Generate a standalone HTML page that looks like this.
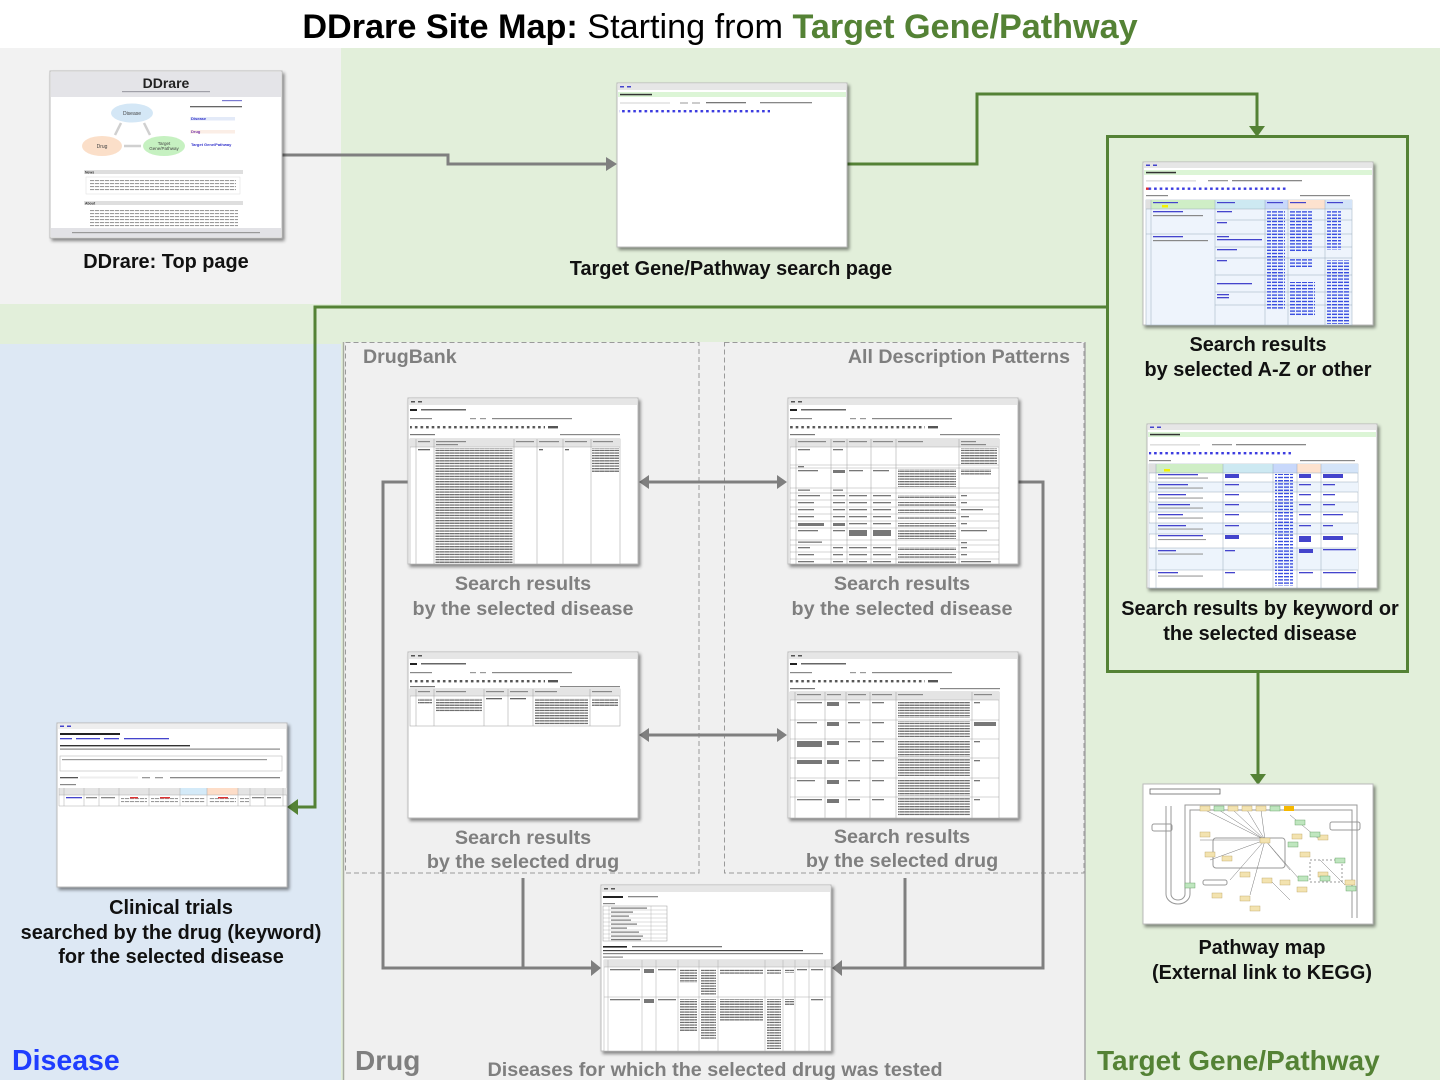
<!DOCTYPE html>
<html><head><meta charset="utf-8">
<style>
html,body{margin:0;padding:0;background:#fff;}
svg{display:block;}
text{font-family:"Liberation Sans",Arial,Helvetica,sans-serif;}
</style></head><body>
<svg width="1440" height="1080" viewBox="0 0 1440 1080" xmlns="http://www.w3.org/2000/svg">
<defs>
<filter id="sh" x="-5%" y="-5%" width="115%" height="115%"><feDropShadow dx="2" dy="2.5" stdDeviation="1.5" flood-color="#000" flood-opacity="0.45"/></filter>
<pattern id="tg" width="5" height="3" patternUnits="userSpaceOnUse"><rect width="4.2" height="1.1" fill="#9a9a9a"/></pattern>
<pattern id="td" width="5" height="2.6" patternUnits="userSpaceOnUse"><rect width="4.8" height="1.3" fill="#707070"/></pattern>
<pattern id="tb" width="6" height="3.2" patternUnits="userSpaceOnUse"><rect width="5" height="1.4" fill="#3a4fe0"/></pattern>
<pattern id="abc" width="5.6" height="10" patternUnits="userSpaceOnUse"><rect x="0.5" width="2.6" height="10" fill="#3a3ae0"/></pattern>
<pattern id="abk" width="5.6" height="10" patternUnits="userSpaceOnUse"><rect x="0.5" width="2.6" height="10" fill="#555"/></pattern>
</defs>

<!-- backgrounds -->
<rect x="0" y="0" width="1440" height="48" fill="#fff"/>
<rect x="0" y="48" width="1440" height="1032" fill="#e2efda"/>
<rect x="0" y="48" width="341" height="256" fill="#f2f2f2"/>
<rect x="0" y="344" width="341" height="736" fill="#dde8f4"/>
<rect x="343" y="342" width="742" height="738" fill="#f0f0f0"/>
<line x1="343.5" y1="342" x2="343.5" y2="1080" stroke="#a8aca0" stroke-width="1.5"/>
<line x1="1085" y1="342" x2="1085" y2="1080" stroke="#a8a8a8" stroke-width="1.5"/>
<rect x="345.5" y="342.5" width="353.5" height="530.5" fill="none" stroke="#9a9a9a" stroke-width="1" stroke-dasharray="5,3"/>
<rect x="724.5" y="342.5" width="359.5" height="530.5" fill="none" stroke="#9a9a9a" stroke-width="1" stroke-dasharray="5,3"/>

<!-- title -->
<text x="720" y="38" font-size="34.2" text-anchor="middle" fill="#000"><tspan font-weight="bold">DDrare Site Map:</tspan> Starting from <tspan font-weight="bold" fill="#548235">Target Gene/Pathway</tspan></text>

<!-- ========== connectors ========== -->
<g fill="none" stroke="#7f7f7f" stroke-width="3">
<path d="M282,155 H448 V164 H607"/>
<line x1="648" y1="482" x2="778" y2="482"/>
<line x1="648" y1="735" x2="778" y2="735"/>
<path d="M408,482 H383 V968 H592"/>
<path d="M523,878 V968"/>
<path d="M1018,482 H1043 V968 H841"/>
<path d="M905,878 V968"/>
</g>
<g fill="#7f7f7f">
<polygon points="606,157 617,164 606,171"/>
<polygon points="649,475 639,482 649,489"/>
<polygon points="777,475 787,482 777,489"/>
<polygon points="649,728 639,735 649,742"/>
<polygon points="777,728 787,735 777,742"/>
<polygon points="591,960 601,968 591,976"/>
<polygon points="842,960 832,968 842,976"/>
</g>
<g fill="none" stroke="#548235" stroke-width="3">
<path d="M847,164 H977 V94 H1257 V127"/>
<rect x="1107.5" y="136.5" width="300" height="535"/>
<path d="M1107,307 H315 V807 H297"/>
<path d="M1258,672 V775"/>
</g>
<g fill="#548235">
<polygon points="1249,126 1265,126 1257,137"/>
<polygon points="298,799 287,807 298,815"/>
<polygon points="1250,774 1266,774 1258,785"/>
</g>

<!-- ========== T1 top page ========== -->
<rect x="50" y="71" width="232" height="167" fill="#fff" stroke="#bbb" filter="url(#sh)"/>
<rect x="51" y="72" width="230" height="25" fill="#e4e4e8"/>
<text x="166" y="88" font-size="14" font-weight="bold" text-anchor="middle" fill="#222">DDrare</text>
<rect x="122" y="91" width="88" height="1.2" fill="#a0a0a8"/>
<rect x="222" y="100" width="20" height="1.2" fill="#7a7ad0"/>
<g stroke="#d0d0d0" stroke-width="2.5"><line x1="115" y1="135" x2="121" y2="123"/><line x1="150" y1="135" x2="144" y2="123"/><line x1="124" y1="146" x2="141" y2="146"/></g>
<ellipse cx="132" cy="113" rx="21" ry="9.5" fill="#d4e7f6"/>
<text x="132" y="115" font-size="5" text-anchor="middle" fill="#444">Disease</text>
<ellipse cx="102" cy="146" rx="20" ry="10" fill="#fbdfc9"/>
<text x="102" y="148" font-size="5" text-anchor="middle" fill="#444">Drug</text>
<ellipse cx="164" cy="146" rx="21" ry="10" fill="#c6f1c1"/>
<text x="164" y="145" font-size="4.5" text-anchor="middle" fill="#444">Target</text>
<text x="164" y="150" font-size="4.5" text-anchor="middle" fill="#444">Gene/Pathway</text>
<rect x="190" y="106" width="52" height="1.3" fill="#666"/>
<rect x="190" y="117" width="45" height="3.5" fill="#e3eaf8"/><text x="191" y="120" font-size="4" fill="#3333cc" font-weight="bold">Disease</text>
<rect x="190" y="130" width="45" height="3.5" fill="#fbeee6"/><text x="191" y="133" font-size="4" fill="#7733aa" font-weight="bold">Drug</text>
<text x="191" y="146" font-size="4" fill="#3333cc" font-weight="bold">Target Gene/Pathway</text>
<rect x="84" y="170" width="159" height="4" fill="#dedede"/>
<text x="85" y="173.5" font-size="3.5" font-weight="bold" fill="#333">News</text>
<rect x="86" y="177" width="154" height="17" fill="#fff" stroke="#ddd" stroke-width="0.5"/>
<rect x="90" y="180" width="146" height="11" fill="url(#tg)"/>
<rect x="84" y="201" width="159" height="4" fill="#dedede"/>
<text x="85" y="204.5" font-size="3.5" font-weight="bold" fill="#333">About</text>
<rect x="90" y="209" width="148" height="18" fill="url(#tg)"/>
<rect x="51" y="228" width="230" height="9" fill="#e2e2e6"/>
<rect x="72" y="232" width="188" height="1.2" fill="#999"/>

<!-- ========== T2 search page ========== -->
<rect x="617" y="83" width="230" height="164" fill="#fff" stroke="#bbb" filter="url(#sh)"/>
<rect x="618" y="84" width="228" height="6" fill="#e6e6e6"/>
<rect x="620" y="86" width="4" height="1.5" fill="#44c"/><rect x="627" y="86" width="4" height="1.5" fill="#44c"/>
<rect x="618" y="92" width="228" height="5" fill="#dcf5d6"/>
<rect x="620" y="93.8" width="32" height="1.5" fill="#333"/>
<rect x="620" y="102" width="50" height="2" fill="#e8e8e8"/>
<rect x="680" y="102" width="8" height="2" fill="#ccc"/><rect x="692" y="102" width="8" height="2" fill="#ccc"/>
<rect x="706" y="102" width="40" height="1.3" fill="#777"/><rect x="760" y="102" width="52" height="1.3" fill="#888"/>
<rect x="619" y="110" width="151" height="2.4" fill="url(#abc)"/>

<!-- ========== T3 A-Z results ========== -->
<rect x="1143" y="162" width="230" height="163" fill="#fff" stroke="#bbb" filter="url(#sh)"/>
<rect x="1144" y="163" width="228" height="5" fill="#e6e6e6"/>
<rect x="1146" y="164.5" width="4" height="1.5" fill="#44c"/><rect x="1153" y="164.5" width="4" height="1.5" fill="#44c"/>
<rect x="1144" y="170" width="228" height="5" fill="#dcf5d6"/>
<rect x="1146" y="171.8" width="30" height="1.5" fill="#333"/>
<rect x="1146" y="180" width="50" height="1.6" fill="#e0e0e0"/>
<rect x="1208" y="180" width="20" height="1.3" fill="#999"/><rect x="1232" y="180" width="70" height="1.3" fill="#888"/>
<rect x="1146" y="187.5" width="140" height="2.4" fill="url(#abc)"/>
<rect x="1146" y="187.5" width="2.6" height="2.4" fill="#e03030"/>
<rect x="1146" y="195" width="22" height="1.2" fill="#888"/><rect x="1300" y="195" width="50" height="1.2" fill="#888"/>
<rect x="1146" y="200" width="206" height="125" fill="#eef4fc" stroke="#9ab" stroke-width="0.5"/>
<rect x="1146" y="200" width="5" height="9" fill="#e0e0e0"/>
<rect x="1151" y="200" width="64" height="9" fill="#cfeec6"/>
<rect x="1215" y="200" width="50" height="9" fill="#cde9f2"/>
<rect x="1265" y="200" width="23" height="9" fill="#c8d8fb"/>
<rect x="1288" y="200" width="37" height="9" fill="#fde2cf"/>
<rect x="1325" y="200" width="27" height="9" fill="#d4e4f8"/>
<rect x="1162" y="205" width="6" height="2.5" fill="#f4f000"/>
<rect x="1153" y="202" width="25" height="1.2" fill="#44c"/><rect x="1217" y="202" width="18" height="1.2" fill="#44c"/><rect x="1267" y="202" width="16" height="1.2" fill="#44c"/><rect x="1290" y="202" width="16" height="1.2" fill="#44c"/><rect x="1327" y="202" width="16" height="1.2" fill="#44c"/>
<g stroke="#9ab" stroke-width="0.5">
<line x1="1151" y1="200" x2="1151" y2="325"/><line x1="1215" y1="200" x2="1215" y2="325"/><line x1="1265" y1="200" x2="1265" y2="325"/><line x1="1288" y1="200" x2="1288" y2="325"/><line x1="1325" y1="200" x2="1325" y2="325"/>
<line x1="1146" y1="209" x2="1352" y2="209"/><line x1="1146" y1="234" x2="1352" y2="234"/>
<line x1="1215" y1="220" x2="1352" y2="220"/><line x1="1215" y1="247" x2="1352" y2="247"/><line x1="1215" y1="258" x2="1352" y2="258"/><line x1="1215" y1="275" x2="1352" y2="275"/><line x1="1215" y1="292" x2="1352" y2="292"/><line x1="1215" y1="305" x2="1352" y2="305"/>
</g>
<rect x="1153" y="211" width="30" height="1.3" fill="#44c"/><rect x="1153" y="215" width="50" height="1.2" fill="#888"/>
<rect x="1153" y="236" width="30" height="1.3" fill="#44c"/><rect x="1153" y="240" width="55" height="1.2" fill="#888"/>
<rect x="1217" y="211" width="15" height="1.3" fill="#44c"/><rect x="1217" y="222" width="10" height="1.3" fill="#44c"/>
<rect x="1217" y="236" width="12" height="1.3" fill="#44c"/><rect x="1217" y="239" width="45" height="1.3" fill="#44c"/>
<rect x="1217" y="249" width="20" height="1.3" fill="#44c"/><rect x="1217" y="260" width="10" height="1.3" fill="#44c"/>
<rect x="1217" y="283" width="35" height="1.3" fill="#44c"/><rect x="1217" y="294" width="12" height="1.3" fill="#44c"/><rect x="1217" y="297" width="12" height="1.3" fill="#44c"/>
<rect x="1267" y="210" width="18" height="100" fill="url(#tb)"/>
<rect x="1290" y="210" width="22" height="42" fill="url(#tb)"/>
<rect x="1290" y="259" width="22" height="8" fill="url(#tb)"/>
<rect x="1290" y="282" width="25" height="34" fill="url(#tb)"/>
<rect x="1327" y="210" width="14" height="40" fill="url(#tb)"/>
<rect x="1327" y="260" width="23" height="64" fill="url(#tb)"/>

<!-- ========== T4 keyword results ========== -->
<rect x="1147" y="424" width="230" height="164" fill="#fff" stroke="#bbb" filter="url(#sh)"/>
<rect x="1148" y="425" width="228" height="5" fill="#e6e6e6"/>
<rect x="1150" y="426.5" width="4" height="1.5" fill="#44c"/><rect x="1157" y="426.5" width="4" height="1.5" fill="#44c"/>
<rect x="1148" y="432" width="228" height="5" fill="#dcf5d6"/>
<rect x="1150" y="433.8" width="30" height="1.5" fill="#333"/>
<rect x="1150" y="444" width="50" height="1.6" fill="#e0e0e0"/>
<rect x="1212" y="444" width="20" height="1.3" fill="#999"/><rect x="1236" y="444" width="70" height="1.3" fill="#888"/>
<rect x="1149" y="452" width="142" height="2.4" fill="url(#abc)"/>
<rect x="1149" y="460" width="22" height="1.2" fill="#888"/><rect x="1300" y="460" width="55" height="1.2" fill="#888"/>
<rect x="1149" y="464" width="209" height="124" fill="#fff" stroke="#9ab" stroke-width="0.5"/>
<rect x="1149" y="464" width="7" height="9" fill="#e0e0e0"/>
<rect x="1156" y="464" width="67" height="9" fill="#cfeec6"/>
<rect x="1223" y="464" width="50" height="9" fill="#cde9f2"/>
<rect x="1273" y="464" width="24" height="9" fill="#c8d8fb"/>
<rect x="1297" y="464" width="24" height="9" fill="#fde2cf"/>
<rect x="1321" y="464" width="37" height="9" fill="#d4e4f8"/>
<rect x="1164" y="469" width="6" height="2.5" fill="#f4f000"/>
<g fill="#edf4fc">
<rect x="1149" y="482" width="209" height="10"/><rect x="1149" y="502" width="209" height="10"/><rect x="1149" y="523" width="209" height="11"/><rect x="1149" y="548" width="209" height="22"/>
</g>
<g stroke="#9ab" stroke-width="0.5">
<line x1="1156" y1="464" x2="1156" y2="588"/><line x1="1223" y1="464" x2="1223" y2="588"/><line x1="1273" y1="464" x2="1273" y2="588"/><line x1="1297" y1="464" x2="1297" y2="588"/><line x1="1321" y1="464" x2="1321" y2="588"/>
<line x1="1149" y1="473" x2="1358" y2="473"/><line x1="1149" y1="482" x2="1358" y2="482"/><line x1="1149" y1="492" x2="1358" y2="492"/><line x1="1149" y1="502" x2="1358" y2="502"/><line x1="1149" y1="512" x2="1358" y2="512"/><line x1="1149" y1="523" x2="1358" y2="523"/><line x1="1149" y1="534" x2="1358" y2="534"/><line x1="1149" y1="548" x2="1358" y2="548"/><line x1="1149" y1="570" x2="1358" y2="570"/>
</g>
<g fill="#44c">
<rect x="1158" y="474" width="40" height="1.3"/><rect x="1158" y="484" width="30" height="1.3"/><rect x="1158" y="494" width="28" height="1.3"/><rect x="1158" y="504" width="32" height="1.3"/><rect x="1158" y="514" width="25" height="1.3"/><rect x="1158" y="525" width="28" height="1.3"/><rect x="1158" y="535" width="45" height="1.3"/><rect x="1158" y="550" width="18" height="1.3"/><rect x="1158" y="572" width="20" height="1.3"/>
<rect x="1225" y="474" width="14" height="4"/><rect x="1225" y="484" width="14" height="1.3"/><rect x="1225" y="494" width="14" height="1.3"/><rect x="1225" y="504" width="14" height="1.3"/><rect x="1225" y="514" width="14" height="1.3"/><rect x="1225" y="525" width="14" height="1.3"/><rect x="1225" y="535" width="14" height="4"/><rect x="1225" y="550" width="10" height="1.3"/><rect x="1225" y="572" width="10" height="1.3"/>
<rect x="1299" y="474" width="12" height="4"/><rect x="1299" y="484" width="12" height="1.3"/><rect x="1299" y="494" width="12" height="1.3"/><rect x="1299" y="504" width="12" height="1.3"/><rect x="1299" y="514" width="12" height="1.3"/><rect x="1299" y="525" width="12" height="1.3"/><rect x="1299" y="536" width="12" height="6"/><rect x="1299" y="549" width="14" height="4"/><rect x="1299" y="572" width="14" height="1.3"/>
<rect x="1323" y="474" width="20" height="4"/><rect x="1323" y="484" width="12" height="1.3"/><rect x="1323" y="494" width="12" height="1.3"/><rect x="1323" y="504" width="12" height="1.3"/><rect x="1323" y="514" width="20" height="1.3"/><rect x="1323" y="525" width="10" height="1.3"/><rect x="1323" y="536" width="20" height="4"/><rect x="1323" y="549" width="33" height="1.3"/><rect x="1323" y="572" width="33" height="1.3"/>
</g>
<g fill="#999"><rect x="1158" y="477.5" width="50" height="1.1"/><rect x="1158" y="487.5" width="45" height="1.1"/><rect x="1158" y="497.5" width="45" height="1.1"/><rect x="1158" y="507.5" width="45" height="1.1"/><rect x="1158" y="517.5" width="45" height="1.1"/><rect x="1158" y="528.5" width="45" height="1.1"/><rect x="1158" y="539" width="48" height="1.1"/><rect x="1158" y="553.5" width="45" height="1.1"/><rect x="1158" y="575.5" width="45" height="1.1"/></g>
<rect x="1275" y="474" width="18" height="112" fill="url(#tb)"/>

<!-- ========== T5 pathway ========== -->
<rect x="1143" y="784" width="230" height="140" fill="#fff" stroke="#bbb" filter="url(#sh)"/>
<rect x="1150" y="789" width="70" height="5" fill="#fff" stroke="#666" stroke-width="0.8"/>
<g fill="none" stroke="#999" stroke-width="1">
<path d="M1166,806 V894 A12,10 0 0 0 1190,894 V810 H1352 V918"/>
<path d="M1171,806 V894 A7,6 0 0 0 1185,894 V805 H1357 V918"/>
<rect x="1213" y="838" width="72" height="30" rx="3"/>
<rect x="1330" y="822" width="30" height="8" rx="2"/>
<rect x="1310" y="860" width="32" height="22" stroke-dasharray="2,2"/>
<rect x="1152" y="824" width="20" height="7" rx="2"/>
<rect x="1203" y="880" width="24" height="5" rx="2"/>
</g>
<g stroke="#777" stroke-width="0.5">
<line x1="1205" y1="810" x2="1265" y2="840"/><line x1="1219" y1="810" x2="1265" y2="840"/><line x1="1233" y1="810" x2="1265" y2="840"/><line x1="1247" y1="810" x2="1265" y2="840"/><line x1="1261" y1="810" x2="1265" y2="840"/><line x1="1210" y1="860" x2="1265" y2="840"/><line x1="1230" y1="880" x2="1265" y2="840"/><line x1="1250" y1="895" x2="1265" y2="840"/><line x1="1290" y1="870" x2="1265" y2="840"/><line x1="1300" y1="880" x2="1265" y2="840"/><line x1="1200" y1="840" x2="1265" y2="840"/><line x1="1290" y1="815" x2="1320" y2="840"/><line x1="1320" y1="860" x2="1345" y2="885"/><line x1="1270" y1="880" x2="1290" y2="900"/>
</g>
<g fill="#f3e3b0" stroke="#b8a060" stroke-width="0.4">
<rect x="1200" y="806" width="10" height="5"/><rect x="1228" y="806" width="10" height="5"/><rect x="1242" y="806" width="10" height="5"/><rect x="1256" y="806" width="10" height="5"/><rect x="1200" y="832" width="10" height="5"/><rect x="1205" y="852" width="10" height="5"/><rect x="1222" y="856" width="10" height="5"/><rect x="1260" y="838" width="10" height="5"/><rect x="1292" y="834" width="10" height="5"/><rect x="1240" y="872" width="10" height="5"/><rect x="1262" y="878" width="10" height="5"/><rect x="1280" y="880" width="10" height="5"/><rect x="1240" y="896" width="10" height="5"/><rect x="1250" y="906" width="10" height="5"/><rect x="1212" y="893" width="10" height="5"/><rect x="1297" y="887" width="10" height="5"/><rect x="1318" y="872" width="10" height="5"/><rect x="1345" y="880" width="10" height="5"/><rect x="1300" y="852" width="10" height="5"/><rect x="1318" y="835" width="10" height="5"/>
</g>
<g fill="#bfe6bf" stroke="#5a9a5a" stroke-width="0.4">
<rect x="1214" y="806" width="10" height="5"/><rect x="1270" y="806" width="10" height="5"/><rect x="1295" y="820" width="10" height="5"/><rect x="1310" y="832" width="10" height="5"/><rect x="1288" y="842" width="10" height="5"/><rect x="1298" y="876" width="10" height="5"/><rect x="1320" y="876" width="10" height="5"/><rect x="1346" y="886" width="10" height="5"/><rect x="1185" y="883" width="10" height="5"/><rect x="1335" y="858" width="10" height="5"/>
</g>
<rect x="1284" y="806" width="10" height="5" fill="#f5b800"/>

<!-- ========== T6 clinical trials ========== -->
<rect x="57" y="723" width="230" height="164" fill="#fff" stroke="#bbb" filter="url(#sh)"/>
<rect x="58" y="724" width="228" height="5" fill="#eeeeee"/>
<rect x="60" y="725.5" width="4" height="1.5" fill="#44c"/><rect x="67" y="725.5" width="4" height="1.5" fill="#44c"/>
<rect x="60" y="733" width="60" height="2" fill="#222"/>
<rect x="60" y="738" width="12" height="1.3" fill="#44c"/><rect x="76" y="738" width="24" height="1.3" fill="#44c"/><rect x="104" y="738" width="15" height="1.3" fill="#44c"/><rect x="124" y="738" width="45" height="1.3" fill="#44c"/>
<rect x="60" y="745" width="130" height="1.4" fill="#333"/>
<rect x="60" y="748.5" width="220" height="1.2" fill="#888"/>
<rect x="60" y="756" width="222" height="15" fill="#fff" stroke="#bbb" stroke-width="0.6"/>
<rect x="62" y="759" width="205" height="1.2" fill="#999"/>
<rect x="60" y="777" width="18" height="1.3" fill="#555"/><rect x="80" y="776.5" width="58" height="2" fill="#eee"/><rect x="142" y="777" width="8" height="1.3" fill="#999"/><rect x="155" y="777" width="8" height="1.3" fill="#999"/><rect x="170" y="777" width="110" height="1.3" fill="#888"/>
<rect x="60" y="784" width="16" height="1.2" fill="#888"/>
<rect x="59" y="788" width="228" height="7" fill="#e4e4e4"/>
<rect x="180" y="788" width="27" height="7" fill="#d4eaf8"/>
<rect x="207" y="788" width="31" height="7" fill="#fdddc8"/>
<g stroke="#aaa" stroke-width="0.5">
<line x1="59" y1="788" x2="59" y2="806"/><line x1="64" y1="788" x2="64" y2="806"/><line x1="84" y1="788" x2="84" y2="806"/><line x1="99" y1="788" x2="99" y2="806"/><line x1="119" y1="788" x2="119" y2="806"/><line x1="149" y1="788" x2="149" y2="806"/><line x1="180" y1="788" x2="180" y2="806"/><line x1="207" y1="788" x2="207" y2="806"/><line x1="238" y1="788" x2="238" y2="806"/><line x1="250" y1="788" x2="250" y2="806"/><line x1="265" y1="788" x2="265" y2="806"/><line x1="283" y1="788" x2="283" y2="806"/>
<line x1="59" y1="795" x2="287" y2="795"/><line x1="59" y1="806" x2="287" y2="806"/>
</g>
<rect x="66" y="797" width="16" height="1.3" fill="#44c"/>
<rect x="86" y="797" width="11" height="1.3" fill="#888"/><rect x="101" y="797" width="14" height="1.3" fill="#888"/>
<rect x="121" y="797" width="26" height="7" fill="url(#tg)"/><rect x="130" y="797" width="8" height="1.4" fill="#e03030"/>
<rect x="151" y="797" width="27" height="7" fill="url(#tg)"/><rect x="160" y="797" width="10" height="1.4" fill="#e03030"/>
<rect x="182" y="797" width="23" height="7" fill="url(#tg)"/>
<rect x="209" y="797" width="27" height="7" fill="url(#tg)"/><rect x="218" y="797" width="10" height="1.4" fill="#e03030"/>
<rect x="240" y="797" width="9" height="7" fill="url(#tg)"/><rect x="252" y="797" width="12" height="1.3" fill="#888"/><rect x="267" y="797" width="14" height="1.3" fill="#888"/>

<!-- ========== T7 DrugBank by disease ========== -->
<rect x="408" y="398" width="230" height="166" fill="#fff" stroke="#bbb" filter="url(#sh)"/>
<rect x="409" y="399" width="228" height="6" fill="#e6e6e6"/>
<rect x="411" y="401" width="4" height="1.5" fill="#555"/><rect x="418" y="401" width="4" height="1.5" fill="#555"/>
<rect x="410" y="409" width="7" height="2" fill="#222"/><rect x="421" y="409" width="45" height="1.5" fill="#666"/>
<rect x="410" y="418" width="22" height="1.2" fill="#888"/><rect x="470" y="418" width="6" height="1.2" fill="#999"/><rect x="480" y="418" width="6" height="1.2" fill="#999"/><rect x="492" y="418" width="80" height="1.2" fill="#888"/>
<rect x="410" y="426" width="135" height="2.4" fill="url(#abk)"/><rect x="548" y="426" width="10" height="2.4" fill="#555"/>
<rect x="410" y="434" width="25" height="1.2" fill="#777"/><rect x="560" y="434" width="60" height="1.2" fill="#888"/>
<rect x="410" y="439" width="210" height="125" fill="#fff" stroke="#aaa" stroke-width="0.6"/>
<rect x="410" y="439" width="210" height="8" fill="#e4e4e4"/>
<g fill="#888"><rect x="418" y="441" width="12" height="1.2"/><rect x="436" y="441" width="30" height="1.2"/><rect x="436" y="444" width="22" height="1.2"/><rect x="516" y="441" width="18" height="1.2"/><rect x="539" y="441" width="20" height="1.2"/><rect x="565" y="441" width="22" height="1.2"/><rect x="593" y="441" width="20" height="1.2"/></g>
<g stroke="#aaa" stroke-width="0.6"><line x1="416" y1="439" x2="416" y2="564"/><line x1="434" y1="439" x2="434" y2="564"/><line x1="514" y1="439" x2="514" y2="564"/><line x1="537" y1="439" x2="537" y2="564"/><line x1="563" y1="439" x2="563" y2="564"/><line x1="591" y1="439" x2="591" y2="564"/><line x1="410" y1="447" x2="620" y2="447"/></g>
<rect x="435.5" y="448" width="77" height="116" fill="url(#td)"/>
<rect x="592" y="448" width="27" height="24" fill="url(#td)"/>
<rect x="418" y="449" width="12" height="1.3" fill="#666"/>
<rect x="539" y="449" width="4" height="1.3" fill="#666"/><rect x="565" y="449" width="4" height="1.3" fill="#666"/>

<!-- ========== T8 ADP by disease ========== -->
<rect x="788" y="398" width="230" height="166" fill="#fff" stroke="#bbb" filter="url(#sh)"/>
<rect x="789" y="399" width="228" height="6" fill="#e6e6e6"/>
<rect x="791" y="401" width="4" height="1.5" fill="#555"/><rect x="798" y="401" width="4" height="1.5" fill="#555"/>
<rect x="790" y="409" width="7" height="2" fill="#222"/><rect x="801" y="409" width="45" height="1.5" fill="#666"/>
<rect x="790" y="418" width="22" height="1.2" fill="#888"/><rect x="850" y="418" width="6" height="1.2" fill="#999"/><rect x="860" y="418" width="6" height="1.2" fill="#999"/><rect x="872" y="418" width="80" height="1.2" fill="#888"/>
<rect x="790" y="426" width="135" height="2.4" fill="url(#abk)"/><rect x="928" y="426" width="10" height="2.4" fill="#555"/>
<rect x="790" y="434" width="25" height="1.2" fill="#777"/><rect x="940" y="434" width="60" height="1.2" fill="#888"/>
<rect x="790" y="439" width="209" height="125" fill="#fff" stroke="#aaa" stroke-width="0.6"/>
<rect x="790" y="439" width="209" height="8" fill="#e4e4e4"/>
<g fill="#888"><rect x="798" y="441" width="28" height="1.2"/><rect x="833" y="441" width="12" height="1.2"/><rect x="849" y="441" width="18" height="1.2"/><rect x="873" y="441" width="20" height="1.2"/><rect x="898" y="441" width="25" height="1.2"/><rect x="961" y="441" width="15" height="1.2"/><rect x="961" y="444" width="25" height="1.2"/></g>
<g stroke="#aaa" stroke-width="0.6">
<line x1="796" y1="439" x2="796" y2="564"/><line x1="831" y1="439" x2="831" y2="564"/><line x1="847" y1="439" x2="847" y2="564"/><line x1="871" y1="439" x2="871" y2="564"/><line x1="896" y1="439" x2="896" y2="564"/><line x1="959" y1="439" x2="959" y2="564"/>
<line x1="790" y1="447" x2="999" y2="447"/><line x1="790" y1="465" x2="999" y2="465"/><line x1="790" y1="468" x2="999" y2="468"/><line x1="790" y1="488" x2="999" y2="488"/><line x1="790" y1="493" x2="999" y2="493"/><line x1="790" y1="500" x2="999" y2="500"/><line x1="790" y1="507" x2="999" y2="507"/><line x1="790" y1="514" x2="999" y2="514"/><line x1="790" y1="521" x2="999" y2="521"/><line x1="790" y1="528" x2="999" y2="528"/><line x1="790" y1="540" x2="999" y2="540"/><line x1="790" y1="545" x2="999" y2="545"/><line x1="790" y1="552" x2="999" y2="552"/><line x1="790" y1="559" x2="999" y2="559"/>
</g>
<g fill="#777">
<rect x="798" y="449" width="12" height="1.3"/><rect x="833" y="449" width="10" height="1.3"/>
<rect x="798" y="466" width="6" height="1.3"/>
<rect x="798" y="470" width="20" height="1.3"/><rect x="833" y="470" width="12" height="3"/><rect x="849" y="470" width="14" height="1.3"/><rect x="873" y="470" width="16" height="1.3"/>
<rect x="798" y="489.5" width="12" height="1.3"/><rect x="833" y="489.5" width="10" height="1.3"/>
<rect x="798" y="495" width="22" height="1.3"/><rect x="833" y="495" width="12" height="1.3"/><rect x="849" y="495" width="18" height="1.3"/><rect x="873" y="495" width="18" height="1.3"/>
<rect x="798" y="502" width="16" height="1.3"/><rect x="833" y="502" width="12" height="1.3"/><rect x="849" y="502" width="18" height="1.3"/><rect x="873" y="502" width="18" height="1.3"/>
<rect x="798" y="509" width="16" height="1.3"/><rect x="833" y="509" width="12" height="1.3"/><rect x="849" y="509" width="18" height="1.3"/><rect x="873" y="509" width="18" height="1.3"/>
<rect x="798" y="516" width="16" height="1.3"/><rect x="833" y="516" width="12" height="1.3"/><rect x="849" y="516" width="18" height="1.3"/><rect x="873" y="516" width="18" height="1.3"/>
<rect x="798" y="523" width="26" height="3"/><rect x="833" y="523" width="12" height="3"/><rect x="849" y="523" width="18" height="1.3"/><rect x="873" y="523" width="18" height="1.3"/>
<rect x="798" y="530" width="20" height="1.3"/><rect x="833" y="530" width="12" height="1.3"/><rect x="849" y="530" width="18" height="6"/><rect x="873" y="530" width="18" height="6"/>
<rect x="798" y="541.5" width="24" height="1.3"/>
<rect x="798" y="547" width="12" height="1.3"/><rect x="833" y="547" width="10" height="1.3"/><rect x="849" y="547" width="18" height="1.3"/><rect x="873" y="547" width="18" height="1.3"/>
<rect x="798" y="554" width="16" height="1.3"/><rect x="833" y="554" width="10" height="1.3"/><rect x="849" y="554" width="18" height="1.3"/><rect x="873" y="554" width="18" height="1.3"/>
<rect x="798" y="561" width="16" height="1.3"/><rect x="833" y="561" width="10" height="1.3"/><rect x="849" y="561" width="18" height="1.3"/><rect x="873" y="561" width="18" height="1.3"/>
</g>
<rect x="898" y="469" width="58" height="18" fill="url(#td)"/>
<rect x="898" y="495" width="58" height="4" fill="url(#td)"/><rect x="898" y="502" width="58" height="4" fill="url(#td)"/><rect x="898" y="509" width="58" height="4" fill="url(#td)"/><rect x="898" y="516" width="58" height="4" fill="url(#td)"/><rect x="898" y="523" width="58" height="4" fill="url(#td)"/><rect x="898" y="530" width="58" height="9" fill="url(#td)"/><rect x="898" y="547" width="58" height="4" fill="url(#td)"/><rect x="898" y="554" width="58" height="4" fill="url(#td)"/><rect x="898" y="561" width="58" height="3" fill="url(#td)"/>
<rect x="961" y="448" width="36" height="16" fill="url(#td)"/>
<rect x="961" y="469" width="30" height="6" fill="url(#td)"/>
<g fill="#777"><rect x="961" y="495" width="6" height="1.3"/><rect x="961" y="502" width="6" height="1.3"/><rect x="961" y="509" width="22" height="1.3"/><rect x="961" y="516" width="8" height="1.3"/><rect x="961" y="523" width="6" height="1.3"/><rect x="961" y="530" width="26" height="1.3"/><rect x="961" y="542" width="6" height="1.3"/><rect x="961" y="547" width="6" height="1.3"/><rect x="961" y="554" width="6" height="1.3"/><rect x="961" y="561" width="30" height="1.3"/></g>

<!-- ========== T9 DrugBank by drug ========== -->
<rect x="408" y="652" width="230" height="166" fill="#fff" stroke="#bbb" filter="url(#sh)"/>
<rect x="409" y="653" width="228" height="6" fill="#e6e6e6"/>
<rect x="411" y="655" width="4" height="1.5" fill="#555"/><rect x="418" y="655" width="4" height="1.5" fill="#555"/>
<rect x="410" y="663" width="7" height="2" fill="#222"/><rect x="421" y="663" width="45" height="1.5" fill="#666"/>
<rect x="410" y="672" width="22" height="1.2" fill="#888"/><rect x="470" y="672" width="6" height="1.2" fill="#999"/><rect x="480" y="672" width="6" height="1.2" fill="#999"/><rect x="492" y="672" width="80" height="1.2" fill="#888"/>
<rect x="410" y="680" width="135" height="2.4" fill="url(#abk)"/><rect x="548" y="680" width="10" height="2.4" fill="#555"/>
<rect x="410" y="686" width="25" height="1.2" fill="#777"/><rect x="560" y="686" width="60" height="1.2" fill="#888"/>
<rect x="410" y="689" width="210" height="37" fill="#fff" stroke="#aaa" stroke-width="0.6"/>
<rect x="410" y="689" width="210" height="7" fill="#e4e4e4"/>
<g fill="#888"><rect x="418" y="691" width="12" height="1.2"/><rect x="436" y="691" width="30" height="1.2"/><rect x="486" y="691" width="18" height="1.2"/><rect x="510" y="691" width="18" height="1.2"/><rect x="535" y="691" width="22" height="1.2"/><rect x="592" y="691" width="20" height="1.2"/></g>
<g stroke="#aaa" stroke-width="0.6"><line x1="416" y1="689" x2="416" y2="726"/><line x1="434" y1="689" x2="434" y2="726"/><line x1="484" y1="689" x2="484" y2="726"/><line x1="508" y1="689" x2="508" y2="726"/><line x1="533" y1="689" x2="533" y2="726"/><line x1="590" y1="689" x2="590" y2="726"/><line x1="410" y1="696" x2="620" y2="696"/></g>
<rect x="418" y="698" width="14" height="6" fill="url(#td)"/>
<rect x="436" y="698" width="46" height="14" fill="url(#td)"/>
<rect x="486" y="698" width="16" height="1.3" fill="#666"/><rect x="510" y="698" width="16" height="1.3" fill="#666"/>
<rect x="535" y="698" width="53" height="27" fill="url(#td)"/>
<rect x="592" y="698" width="26" height="8" fill="url(#td)"/>

<!-- ========== T10 ADP by drug ========== -->
<rect x="788" y="652" width="230" height="166" fill="#fff" stroke="#bbb" filter="url(#sh)"/>
<rect x="789" y="653" width="228" height="6" fill="#e6e6e6"/>
<rect x="791" y="655" width="4" height="1.5" fill="#555"/><rect x="798" y="655" width="4" height="1.5" fill="#555"/>
<rect x="790" y="663" width="7" height="2" fill="#222"/><rect x="801" y="663" width="45" height="1.5" fill="#666"/>
<rect x="790" y="672" width="22" height="1.2" fill="#888"/><rect x="850" y="672" width="6" height="1.2" fill="#999"/><rect x="860" y="672" width="6" height="1.2" fill="#999"/><rect x="872" y="672" width="80" height="1.2" fill="#888"/>
<rect x="790" y="680" width="135" height="2.4" fill="url(#abk)"/><rect x="928" y="680" width="10" height="2.4" fill="#555"/>
<rect x="790" y="688" width="25" height="1.2" fill="#777"/><rect x="940" y="688" width="60" height="1.2" fill="#888"/>
<rect x="790" y="692" width="209" height="126" fill="#fff" stroke="#aaa" stroke-width="0.6"/>
<rect x="790" y="692" width="209" height="8" fill="#e4e4e4"/>
<g fill="#888"><rect x="797" y="694" width="24" height="1.2"/><rect x="827" y="694" width="14" height="1.2"/><rect x="848" y="694" width="18" height="1.2"/><rect x="872" y="694" width="20" height="1.2"/><rect x="898" y="694" width="25" height="1.2"/><rect x="974" y="694" width="18" height="1.2"/></g>
<g stroke="#aaa" stroke-width="0.6">
<line x1="795" y1="692" x2="795" y2="818"/><line x1="825" y1="692" x2="825" y2="818"/><line x1="846" y1="692" x2="846" y2="818"/><line x1="870" y1="692" x2="870" y2="818"/><line x1="896" y1="692" x2="896" y2="818"/><line x1="972" y1="692" x2="972" y2="818"/>
<line x1="790" y1="700" x2="999" y2="700"/><line x1="790" y1="720" x2="999" y2="720"/><line x1="790" y1="739" x2="999" y2="739"/><line x1="790" y1="758" x2="999" y2="758"/><line x1="790" y1="778" x2="999" y2="778"/><line x1="790" y1="797" x2="999" y2="797"/>
</g>
<g fill="#777">
<rect x="797" y="702" width="25" height="1.3"/><rect x="827" y="702" width="12" height="4"/><rect x="848" y="702" width="12" height="1.3"/><rect x="872" y="702" width="12" height="1.3"/>
<rect x="797" y="722" width="20" height="1.3"/><rect x="827" y="722" width="12" height="4"/><rect x="848" y="722" width="12" height="1.3"/><rect x="872" y="722" width="12" height="1.3"/>
<rect x="797" y="741" width="25" height="6"/><rect x="827" y="741" width="12" height="4"/><rect x="848" y="741" width="12" height="1.3"/><rect x="872" y="741" width="12" height="1.3"/>
<rect x="797" y="760" width="25" height="4"/><rect x="827" y="760" width="12" height="4"/><rect x="848" y="760" width="12" height="1.3"/><rect x="872" y="760" width="12" height="1.3"/>
<rect x="797" y="780" width="18" height="1.3"/><rect x="827" y="780" width="12" height="4"/><rect x="848" y="780" width="12" height="1.3"/><rect x="872" y="780" width="12" height="1.3"/>
<rect x="797" y="799" width="25" height="1.3"/><rect x="827" y="799" width="12" height="4"/><rect x="848" y="799" width="12" height="1.3"/><rect x="872" y="799" width="12" height="1.3"/>
<rect x="974" y="702" width="6" height="1.3"/><rect x="974" y="722" width="22" height="4"/><rect x="974" y="741" width="6" height="1.3"/><rect x="974" y="760" width="6" height="1.3"/><rect x="974" y="780" width="6" height="1.3"/><rect x="974" y="799" width="6" height="1.3"/>
</g>
<rect x="898" y="701" width="72" height="17" fill="url(#td)"/>
<rect x="898" y="721" width="72" height="17" fill="url(#td)"/>
<rect x="898" y="740" width="72" height="17" fill="url(#td)"/>
<rect x="898" y="759" width="72" height="17" fill="url(#td)"/>
<rect x="898" y="779" width="72" height="17" fill="url(#td)"/>
<rect x="898" y="798" width="72" height="18" fill="url(#td)"/>

<!-- ========== T11 bottom ========== -->
<rect x="601" y="885" width="230" height="166" fill="#fff" stroke="#bbb" filter="url(#sh)"/>
<rect x="602" y="886" width="228" height="6" fill="#e6e6e6"/>
<rect x="604" y="888" width="4" height="1.5" fill="#555"/><rect x="611" y="888" width="4" height="1.5" fill="#555"/>
<rect x="603" y="896" width="20" height="2" fill="#222"/><rect x="628" y="896" width="30" height="1.3" fill="#888"/>
<rect x="603" y="903" width="12" height="1.2" fill="#888"/>
<rect x="603" y="906" width="64" height="35" fill="#fff" stroke="#999" stroke-width="0.5"/>
<g stroke="#aaa" stroke-width="0.4"><line x1="609" y1="906" x2="609" y2="941"/><line x1="651" y1="906" x2="651" y2="941"/><line x1="603" y1="910" x2="667" y2="910"/><line x1="603" y1="914" x2="667" y2="914"/><line x1="603" y1="918" x2="667" y2="918"/><line x1="603" y1="922" x2="667" y2="922"/><line x1="603" y1="926" x2="667" y2="926"/><line x1="603" y1="930" x2="667" y2="930"/><line x1="603" y1="934" x2="667" y2="934"/><line x1="603" y1="938" x2="667" y2="938"/></g>
<g fill="#777"><rect x="611" y="907.5" width="36" height="1.2"/><rect x="611" y="911.5" width="22" height="1.2"/><rect x="611" y="915.5" width="18" height="1.2"/><rect x="611" y="919.5" width="20" height="1.2"/><rect x="611" y="923.5" width="26" height="1.2"/><rect x="611" y="927.5" width="16" height="1.2"/><rect x="611" y="931.5" width="28" height="1.2"/><rect x="611" y="935.5" width="32" height="1.2"/><rect x="611" y="939" width="30" height="1.2"/></g>
<rect x="603" y="946" width="24" height="1.6" fill="#222"/><rect x="632" y="946" width="90" height="1.3" fill="#777"/>
<rect x="603" y="950" width="200" height="1.2" fill="#444"/>
<rect x="603" y="953" width="220" height="1.2" fill="#888"/>
<rect x="603" y="956.5" width="20" height="1.2" fill="#888"/>
<rect x="604" y="960" width="227" height="91" fill="#fff" stroke="#aaa" stroke-width="0.5"/>
<rect x="604" y="960" width="227" height="7" fill="#e4e4e4"/>
<g stroke="#aaa" stroke-width="0.5">
<line x1="608" y1="960" x2="608" y2="1051"/><line x1="642" y1="960" x2="642" y2="1051"/><line x1="656" y1="960" x2="656" y2="1051"/><line x1="678" y1="960" x2="678" y2="1051"/><line x1="699" y1="960" x2="699" y2="1051"/><line x1="718" y1="960" x2="718" y2="1051"/><line x1="765" y1="960" x2="765" y2="1051"/><line x1="783" y1="960" x2="783" y2="1051"/><line x1="795" y1="960" x2="795" y2="1051"/><line x1="809" y1="960" x2="809" y2="1051"/><line x1="825" y1="960" x2="825" y2="1051"/>
<line x1="604" y1="967" x2="831" y2="967"/><line x1="604" y1="997" x2="831" y2="997"/>
</g>
<g fill="#777">
<rect x="610" y="969" width="30" height="1.3"/><rect x="644" y="969" width="10" height="4"/><rect x="658" y="969" width="18" height="1.3"/>
<rect x="610" y="999" width="30" height="1.3"/><rect x="644" y="999" width="10" height="4"/><rect x="658" y="999" width="18" height="1.3"/>
<rect x="797" y="969" width="10" height="1.3"/><rect x="811" y="969" width="12" height="1.3"/>
<rect x="811" y="999" width="12" height="1.3"/>
</g>
<rect x="680" y="969" width="17" height="14" fill="url(#td)"/>
<rect x="701" y="969" width="15" height="26" fill="url(#td)"/>
<rect x="720" y="969" width="43" height="6" fill="url(#td)"/>
<rect x="767" y="969" width="14" height="6" fill="url(#td)"/>
<rect x="785" y="969" width="9" height="4" fill="url(#td)"/>
<rect x="680" y="999" width="17" height="32" fill="url(#td)"/>
<rect x="701" y="999" width="15" height="40" fill="url(#td)"/>
<rect x="720" y="999" width="43" height="22" fill="url(#td)"/>
<rect x="767" y="999" width="14" height="50" fill="url(#td)"/>
<rect x="785" y="999" width="9" height="6" fill="url(#td)"/>

<!-- ========== labels ========== -->
<g font-weight="bold" font-size="19.9" fill="#111" text-anchor="middle">
<text x="166" y="268">DDrare: Top page</text>
<text x="731" y="275">Target Gene/Pathway search page</text>
<text x="1258" y="351">Search results</text>
<text x="1258" y="376">by selected A-Z or other</text>
<text x="1260" y="615">Search results by keyword or</text>
<text x="1260" y="640">the selected disease</text>
<text x="1262" y="954">Pathway map</text>
<text x="1262" y="979">(External link to KEGG)</text>
<text x="171" y="914">Clinical trials</text>
<text x="171" y="939">searched by the drug (keyword)</text>
<text x="171" y="963">for the selected disease</text>
</g>
<g font-weight="bold" font-size="19.8" fill="#7f7f7f" text-anchor="middle">
<text x="523" y="590">Search results</text>
<text x="523" y="615">by the selected disease</text>
<text x="902" y="590">Search results</text>
<text x="902" y="615">by the selected disease</text>
<text x="523" y="844">Search results</text>
<text x="523" y="868">by the selected drug</text>
<text x="902" y="843">Search results</text>
<text x="902" y="867">by the selected drug</text>
<text x="715" y="1076">Diseases for which the selected drug was tested</text>
</g>
<text x="363" y="363" font-size="19.6" font-weight="bold" fill="#7f7f7f">DrugBank</text>
<text x="1070" y="363" font-size="19.6" font-weight="bold" fill="#7f7f7f" text-anchor="end">All Description Patterns</text>
<text x="12" y="1070" font-size="28.5" font-weight="bold" fill="#1f3dff">Disease</text>
<text x="355" y="1070" font-size="28" font-weight="bold" fill="#7f7f7f">Drug</text>
<text x="1097" y="1070" font-size="28" font-weight="bold" fill="#548235">Target Gene/Pathway</text>
</svg>
</body></html>
